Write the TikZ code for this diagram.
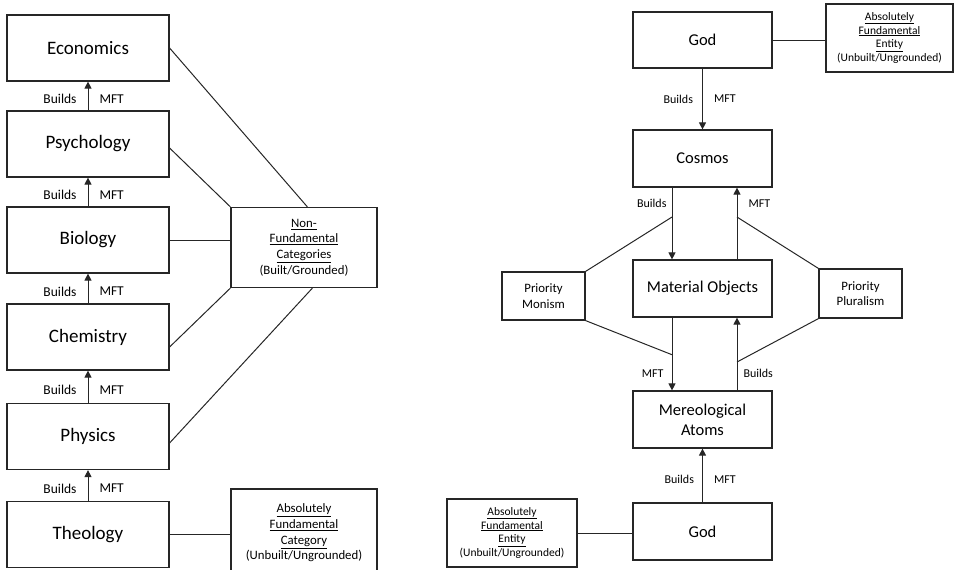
\documentclass[tikz,border=0pt]{standalone}
\usepackage{fontspec}
\setmainfont{Carlito}
\usetikzlibrary{arrows.meta}

\begin{document}
\begin{tikzpicture}[x=1pt,y=-1pt,line width=1pt,draw=black!85,
	box/.style={draw,line width=1.2pt,inner sep=0pt,align=center},
	big/.style={box,minimum width=162pt,minimum height=66pt,font=\fontsize{19}{22}\selectfont},
	mid/.style={box,minimum width=139pt,minimum height=57pt,font=\fontsize{16.5}{20}\selectfont},
	note/.style={box,font=\fontsize{12.8}{15.6}\selectfont},
	tagl/.style={inner sep=0pt,font=\fontsize{13.5}{16}\selectfont},
	tag/.style={inner sep=0pt,font=\fontsize{12}{14}\selectfont},
	arr/.style={-{Triangle[length=7pt,width=7pt]}}]
	\useasboundingbox (0,0) rectangle (954,570);
	% left column
	\node[big] (econ) at (88,48) {Economics};
	\node[big] (psych) at (88,144) {Psychology};
	\node[big] (bio) at (88,240) {Biology};
	\node[big] (chem) at (88,337) {Chemistry};
	\node[big] (phys) at (88,436.5) {Physics};
	\node[big] (theo) at (88,534.5) {Theology};
	\draw[arr] (psych.north) -- node[pos=.4,left=11pt,tagl]{Builds} node[pos=.4,right=11pt,tagl]{MFT} (econ.south);
	\draw[arr] (bio.north) -- node[pos=.4,left=11pt,tagl]{Builds} node[pos=.4,right=11pt,tagl]{MFT} (psych.south);
	\draw[arr] (chem.north) -- node[pos=.4,left=11pt,tagl]{Builds} node[pos=.4,right=11pt,tagl]{MFT} (bio.south);
	\draw[arr] (phys.north) -- node[pos=.4,left=11pt,tagl]{Builds} node[pos=.4,right=11pt,tagl]{MFT} (chem.south);
	\draw[arr] (theo.north) -- node[pos=.4,left=11pt,tagl]{Builds} node[pos=.4,right=11pt,tagl]{MFT} (phys.south);
	\node[note,minimum width=146pt,minimum height=80pt] (nonfund) at (304,247.5) {\underline{Non-}\\\underline{Fundamental}\\\underline{Categories}\\(Built/Grounded)};
	\node[note,minimum width=146pt,minimum height=88pt] (afc) at (304,533) {\underline{Absolutely}\\\underline{Fundamental}\\\underline{Category}\\(Unbuilt/Ungrounded)};
	\draw (econ.east) -- ([xshift=77pt]nonfund.north west);
	\draw ([yshift=-4pt]psych.east) -- (nonfund.north west);
	\draw (bio.east) -- (bio.east -| nonfund.west);
	\draw ([yshift=-10pt]chem.east) -- (nonfund.south west);
	\draw ([yshift=-6.5pt]phys.east) -- ([xshift=82pt]nonfund.south west);
	\draw (theo.east) -- (theo.east -| afc.west);
	% right column
	\node[mid,minimum height=56pt] (godtop) at (702.5,40) {God};
	\node[box,minimum width=127pt,minimum height=68pt,font=\fontsize{11.5}{13.8}\selectfont] (afetop) at (889.5,38) {\underline{Absolutely}\\\underline{Fundamental}\\\underline{Entity}\\(Unbuilt/Ungrounded)};
	\node[mid] (cosmos) at (702.5,158.5) {Cosmos};
	\node[mid] (mo) at (702.5,288.5) {Material Objects};
	\node[mid] (ma) at (702.5,419.5) {Mereological\\Atoms};
	\node[mid] (godbot) at (702.5,531.5) {God};
	\node[box,minimum width=130pt,minimum height=68pt,font=\fontsize{11.5}{13.8}\selectfont] (afebot) at (512,533) {\underline{Absolutely}\\\underline{Fundamental}\\\underline{Entity}\\(Unbuilt/Ungrounded)};
	\node[note,minimum width=83pt,minimum height=48pt] (pm) at (543.5,296) {Priority\\Monism};
	\node[note,minimum width=83pt,minimum height=49pt] (pp) at (860.5,293.5) {Priority\\Pluralism};
	\draw (godtop.east) -- (godtop.east -| afetop.west);
	\draw[arr] (godtop.south) -- node[left=9pt,tag]{Builds} node[right=11pt,tag]{MFT} (cosmos.north);
	\draw[arr] ([xshift=-30.5pt]cosmos.south) -- node[pos=.22,left=5pt,tag]{Builds} coordinate[pos=.41] (pml) ([xshift=-30.5pt]mo.north);
	\draw[arr] ([xshift=34.5pt]mo.north) -- coordinate[pos=.59] (ppl) node[pos=.78,right=11pt,tag]{MFT} ([xshift=34.5pt]cosmos.south);
	\draw[arr] ([xshift=-30.5pt]mo.south) -- coordinate[pos=.51] (pmu) node[pos=.77,left=8pt,tag]{MFT} ([xshift=-30.5pt]ma.north);
	\draw[arr] ([xshift=34.5pt]ma.north) -- coordinate[pos=.39] (ppu) node[pos=.23,right=6pt,tag]{Builds} ([xshift=34.5pt]mo.south);
	\draw[arr] (godbot.north) -- node[pos=.42,left=8pt,tag]{Builds} node[pos=.42,right=11pt,tag]{MFT} (ma.south);
	\draw (pm.north east) -- (pml);
	\draw (pm.south east) -- (pmu);
	\draw (pp.north west) -- (ppl);
	\draw (pp.south west) -- (ppu);
	\draw (afebot.east) -- (afebot.east -| godbot.west);
\end{tikzpicture}
\end{document}
